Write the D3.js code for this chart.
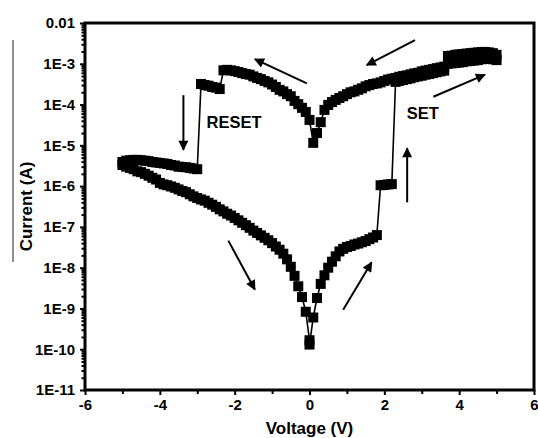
<!DOCTYPE html>
<html><head><meta charset="utf-8">
<script src="https://cdn.jsdelivr.net/npm/d3@7"></script>
<style>
html,body{margin:0;padding:0;background:#fff;}
svg{display:block;}
text{font-family:"Liberation Sans",Arial,Helvetica,sans-serif;font-weight:bold;fill:#000;}
</style></head><body>
<svg id="chart" width="538" height="438"></svg>
<script>
// ---------- data ----------
// 1) SET sweep 0 V -> +5 V
const setVoltage = [0.0,0.1,0.2,0.3,0.4,0.5,0.6,0.7,0.8,0.9,1.0,1.1,1.2,1.3,1.4,1.5,1.6,1.7,1.8,1.9,2.0,2.1,2.2,2.3,2.4,2.5,2.6,2.7,2.8,2.9,3.0,3.1,3.2,3.3,3.4,3.5,3.6,3.7,3.8,3.9,4.0,4.1,4.2,4.3,4.4,4.5,4.6,4.7,4.8,4.9,5.0];
const setCurrent = [1.3e-10,6.0e-10,1.8e-9,4.0e-9,6.5e-9,1.0e-8,1.4e-8,1.9e-8,2.5e-8,2.9e-8,3.2e-8,3.4e-8,3.7e-8,3.9e-8,4.2e-8,4.5e-8,5.0e-8,5.5e-8,6.3e-8,1.05e-6,1.07e-6,1.1e-6,1.12e-6,3.6e-4,3.8e-4,4.0e-4,4.2e-4,4.4e-4,4.7e-4,4.9e-4,5.1e-4,5.4e-4,5.6e-4,5.9e-4,6.2e-4,6.5e-4,6.8e-4,1.55e-3,1.58e-3,1.66e-3,1.7e-3,1.74e-3,1.78e-3,1.82e-3,1.86e-3,1.9e-3,1.95e-3,1.95e-3,1.9e-3,1.82e-3,1.66e-3];
// 2) return sweep +5 V -> 0 V (LRS)
const lrsPosVoltage = [5.0,4.9,4.8,4.7,4.6,4.5,4.4,4.3,4.2,4.1,4.0,3.9,3.8,3.7,3.6,3.5,3.4,3.3,3.2,3.1,3.0,2.9,2.8,2.7,2.6,2.5,2.4,2.3,2.2,2.1,2.0,1.9,1.8,1.7,1.6,1.5,1.4,1.3,1.2,1.1,1.0,0.9,0.8,0.7,0.6,0.5,0.4,0.3,0.2,0.1];
const lrsPosCurrent = [1.23e-3,1.29e-3,1.32e-3,1.32e-3,1.29e-3,1.23e-3,1.2e-3,1.17e-3,1.15e-3,1.1e-3,1.07e-3,1.05e-3,1.02e-3,1.0e-3,8.5e-4,8.1e-4,7.8e-4,7.4e-4,7.1e-4,6.8e-4,6.5e-4,6.0e-4,5.8e-4,5.5e-4,5.2e-4,5.0e-4,4.8e-4,4.5e-4,4.3e-4,4.1e-4,3.8e-4,3.5e-4,3.3e-4,3.2e-4,3.0e-4,2.8e-4,2.5e-4,2.3e-4,2.1e-4,2.0e-4,1.8e-4,1.6e-4,1.45e-4,1.3e-4,1.15e-4,9.8e-5,7.4e-5,3.7e-5,2.0e-5,1.15e-5];
// 3) RESET sweep 0 V -> -5 V
const resetVoltage = [0.0,-0.1,-0.2,-0.3,-0.4,-0.5,-0.6,-0.7,-0.8,-0.9,-1.0,-1.1,-1.2,-1.3,-1.4,-1.5,-1.6,-1.7,-1.8,-1.9,-2.0,-2.1,-2.2,-2.3,-2.4,-2.5,-2.6,-2.7,-2.8,-2.9,-3.0,-3.1,-3.2,-3.3,-3.4,-3.5,-3.6,-3.7,-3.8,-3.9,-4.0,-4.1,-4.2,-4.3,-4.4,-4.5,-4.6,-4.7,-4.8,-4.9,-5.0];
const resetCurrent = [4.2e-5,6.6e-5,8.3e-5,1.02e-4,1.23e-4,1.6e-4,1.8e-4,2.1e-4,2.3e-4,2.7e-4,3.1e-4,3.5e-4,3.8e-4,4.2e-4,4.5e-4,4.9e-4,5.4e-4,5.6e-4,5.9e-4,6.3e-4,6.6e-4,6.9e-4,7.1e-4,6.9e-4,2.4e-4,2.6e-4,2.7e-4,2.9e-4,3.0e-4,3.2e-4,2.6e-6,2.7e-6,2.8e-6,2.9e-6,2.95e-6,3.0e-6,3.2e-6,3.3e-6,3.5e-6,3.6e-6,3.7e-6,3.8e-6,3.9e-6,4.1e-6,4.2e-6,4.3e-6,4.4e-6,4.4e-6,4.3e-6,4.2e-6,3.9e-6];
// 4) return sweep -5 V -> 0 V (HRS)
const hrsNegVoltage = [-5.0,-4.9,-4.8,-4.7,-4.6,-4.5,-4.4,-4.3,-4.2,-4.1,-4.0,-3.9,-3.8,-3.7,-3.6,-3.5,-3.4,-3.3,-3.2,-3.1,-3.0,-2.9,-2.8,-2.7,-2.6,-2.5,-2.4,-2.3,-2.2,-2.1,-2.0,-1.9,-1.8,-1.7,-1.6,-1.5,-1.4,-1.3,-1.2,-1.1,-1.0,-0.9,-0.8,-0.7,-0.6,-0.5,-0.4,-0.3,-0.2,-0.1,0.0];
const hrsNegCurrent = [3.3e-6,3.0e-6,2.8e-6,2.6e-6,2.3e-6,2.2e-6,2.0e-6,1.8e-6,1.6e-6,1.45e-6,1.2e-6,1.1e-6,1.05e-6,9.8e-7,9.1e-7,8.3e-7,7.6e-7,7.1e-7,6.3e-7,5.6e-7,5.1e-7,4.7e-7,4.4e-7,3.9e-7,3.5e-7,3.1e-7,2.7e-7,2.4e-7,2.1e-7,1.9e-7,1.66e-7,1.45e-7,1.26e-7,1.1e-7,9.5e-8,8.1e-8,7.1e-8,6.2e-8,5.4e-8,4.7e-8,4.0e-8,3.3e-8,2.75e-8,2.2e-8,1.6e-8,1.05e-8,6.3e-9,3.5e-9,1.9e-9,8.3e-10,1.66e-10];

// axis ticks
const xMajorTicks = [-6,-4,-2,0,2,4,6];
const xTickLabels = ["-6","-4","-2","0","2","4","6"];
const xMinorTicks = [-5,-3,-1,1,3,5];
const yMajorTicks = [1e-2,1e-3,1e-4,1e-5,1e-6,1e-7,1e-8,1e-9,1e-10,1e-11];
const yTickLabels = ["0.01","1E-3","1E-4","1E-5","1E-6","1E-7","1E-8","1E-9","1E-10","1E-11"];

// annotations: arrows from (V, I) to (V, I)
const arrowFromV = [2.82, -0.07, -3.37, 2.61, 3.31, 0.90, -2.17];
const arrowFromI = [3.8e-3, 3.3e-4, 1.7e-4, 4.0e-7, 1.55e-4, 9.3e-10, 4.6e-8];
const arrowToV   = [1.53, -1.46, -3.37, 2.61, 4.69, 1.66, -1.46];
const arrowToI   = [9.3e-4, 1.3e-3, 7.8e-6, 8.5e-6, 5.4e-4, 1.35e-8, 2.9e-9];
const labelText = ["RESET", "SET"];
const labelV = [-2.75, 2.6];
const labelI = [2.7e-5, 4.5e-5];

// ---------- drawing ----------
const mLeft = 85, mRight = 534, mTop = 23, mBottom = 390;
const svg = d3.select("#chart");
const x = d3.scaleLinear().domain([-6, 6]).range([mLeft, mRight]);
const y = d3.scaleLog().domain([1e-11, 1e-2]).range([mBottom, mTop]);

const pts = [];
[[setVoltage,setCurrent],[lrsPosVoltage,lrsPosCurrent],[resetVoltage,resetCurrent],[hrsNegVoltage,hrsNegCurrent]]
  .forEach(([vs, cs]) => vs.forEach((v, i) => pts.push({v, c: cs[i]})));

// connecting line
svg.append("path")
  .datum(pts)
  .attr("fill", "none")
  .attr("stroke", "#000")
  .attr("stroke-width", 1.6)
  .attr("d", d3.line().x(d => x(d.v)).y(d => y(d.c)));

// square markers
const S = 10;
svg.append("g").selectAll("rect").data(pts).join("rect")
  .attr("x", d => x(d.v) - S/2)
  .attr("y", d => y(d.c) - S/2)
  .attr("width", S).attr("height", S)
  .attr("fill", "#000");

// axes
const xAxis = svg.append("g").attr("transform", `translate(0,${mBottom})`)
  .call(d3.axisBottom(x).tickValues(xMajorTicks).tickSize(5).tickPadding(4)
    .tickFormat((d, i) => xTickLabels[i]));
const xMinor = svg.append("g").attr("transform", `translate(0,${mBottom})`)
  .call(d3.axisBottom(x).tickValues(xMinorTicks).tickSize(4).tickFormat(""));
const yAxis = svg.append("g").attr("transform", `translate(${mLeft},0)`)
  .call(d3.axisLeft(y).tickValues(yMajorTicks).tickSize(5).tickPadding(5)
    .tickFormat((d, i) => yTickLabels[i]));
const yMinorVals = y.ticks(90).filter(t => yMajorTicks.every(m => Math.abs(Math.log10(t) - Math.log10(m)) > 1e-6));
const yMinor = svg.append("g").attr("transform", `translate(${mLeft},0)`)
  .call(d3.axisLeft(y).tickValues(yMinorVals).tickSize(3.5).tickFormat(""));

[xAxis, xMinor, yAxis, yMinor].forEach(g => {
  g.select(".domain").remove();
  g.selectAll(".tick line").attr("stroke", "#000").attr("stroke-width", 2);
  g.selectAll(".tick text").attr("font-size", 15).attr("font-weight", "bold")
    .attr("font-family", '"Liberation Sans",Arial,sans-serif').attr("fill", "#000");
});

// frame
svg.append("rect")
  .attr("x", mLeft).attr("y", mTop)
  .attr("width", mRight - mLeft).attr("height", mBottom - mTop)
  .attr("fill", "none").attr("stroke", "#000").attr("stroke-width", 3);

// axis titles
svg.append("text").attr("x", (mLeft + mRight) / 2).attr("y", 434)
  .attr("text-anchor", "middle").attr("font-size", 17).text("Voltage (V)");
svg.append("text").attr("transform", `translate(32,${(mTop + mBottom) / 2}) rotate(-90)`)
  .attr("text-anchor", "middle").attr("font-size", 17).text("Current (A)");

// stray vertical rule next to the y title (as in the reference)
svg.append("line").attr("x1", 13).attr("x2", 13).attr("y1", 40).attr("y2", 262)
  .attr("stroke", "#222").attr("stroke-width", 1);

// arrows
const defs = svg.append("defs");
defs.append("marker").attr("id", "ah").attr("viewBox", "0 0 10 10")
  .attr("refX", 9).attr("refY", 5).attr("markerWidth", 6).attr("markerHeight", 5)
  .attr("markerUnits", "strokeWidth").attr("orient", "auto")
  .append("path").attr("d", "M0,0 L10,5 L0,10 Z").attr("fill", "#000");
svg.append("g").selectAll("line").data(arrowFromV).join("line")
  .attr("x1", (d, i) => x(arrowFromV[i])).attr("y1", (d, i) => y(arrowFromI[i]))
  .attr("x2", (d, i) => x(arrowToV[i])).attr("y2", (d, i) => y(arrowToI[i]))
  .attr("stroke", "#000").attr("stroke-width", 2)
  .attr("marker-end", "url(#ah)");

// labels
svg.append("g").selectAll("text").data(labelText).join("text")
  .attr("x", (d, i) => x(labelV[i])).attr("y", (d, i) => y(labelI[i]))
  .attr("font-size", 16.5).text(d => d);
</script>
</body></html>
